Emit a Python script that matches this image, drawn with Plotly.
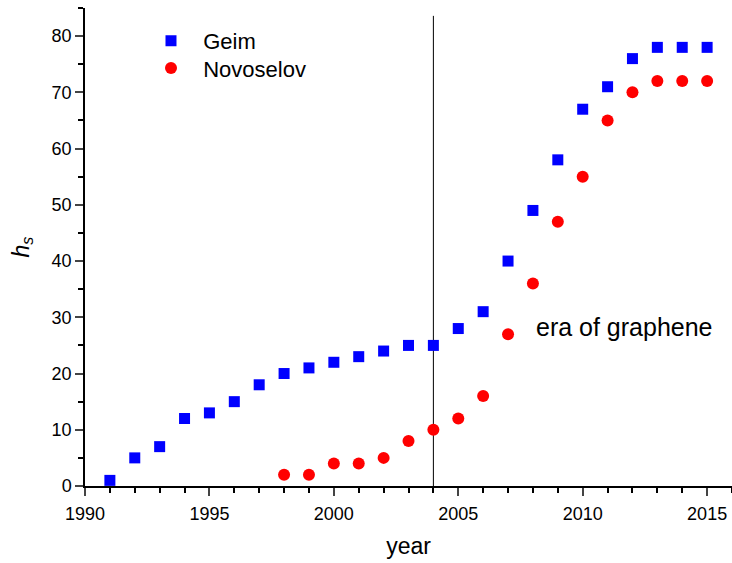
import plotly.graph_objects as go

geim_years = list(range(1991, 2016))
geim_values = [1, 5, 7, 12, 13, 15, 18, 20, 21, 22, 23, 24, 25, 25, 28, 31, 40, 49, 58, 67, 71, 76, 78, 78, 78]
novo_years = list(range(1998, 2016))
novo_values = [2, 2, 4, 4, 5, 8, 10, 12, 16, 27, 36, 47, 55, 65, 70, 72, 72, 72]
era_year = 2004
x_ticks = [1990, 1995, 2000, 2005, 2010, 2015]
y_ticks = [0, 10, 20, 30, 40, 50, 60, 70, 80]

font_family = "Liberation Sans, Arial, sans-serif"

fig = go.Figure()
fig.add_trace(go.Scatter(x=geim_years, y=geim_values, mode="markers", name="  Geim", legend="legend",
                         marker=dict(symbol="square", size=11, color="#0000ff")))
fig.add_trace(go.Scatter(x=novo_years, y=novo_values, mode="markers", name="  Novoselov", legend="legend2",
                         marker=dict(symbol="circle", size=12, color="#ff0000")))

fig.add_shape(type="line", x0=era_year, x1=era_year, y0=0, y1=83.6, xref="x", yref="y",
              line=dict(color="black", width=1), layer="below")

fig.add_annotation(x=2008.05, y=28.3, xref="x", yref="y", text="era of graphene", showarrow=False,
                   xanchor="left", yanchor="middle", font=dict(size=25, color="black", family=font_family))

legend_style = dict(xanchor="left", yanchor="top", bgcolor="rgba(0,0,0,0)",
                    font=dict(size=22), tracegroupgap=0, itemsizing="trace")

fig.update_layout(
    width=732, height=563,
    margin=dict(l=85, r=0, t=8, b=77),
    plot_bgcolor="white", paper_bgcolor="white",
    font=dict(family=font_family, color="black"),
    showlegend=True,
    legend=dict(x=0.102, y=0.975, **legend_style),
    legend2=dict(x=0.102, y=0.918, **legend_style),
    xaxis=dict(range=[1990, 2016], tickvals=x_ticks, ticks="outside", ticklen=8, tickwidth=1.5,
               showline=True, linecolor="black", linewidth=1.5, showgrid=False, zeroline=False,
               tickfont=dict(size=18), ticklabelstandoff=3,
               title=dict(text="year", font=dict(size=23), standoff=15),
               minor=dict(dtick=1, ticks="outside", ticklen=5, tickwidth=1.5, tickcolor="black", showgrid=False)),
    yaxis=dict(range=[0, 85], tickvals=y_ticks, ticks="outside", ticklen=8, tickwidth=1.5,
               showline=True, linecolor="black", linewidth=1.5, showgrid=False, zeroline=False,
               tickfont=dict(size=18), title=dict(text="<i>h</i><sub><i>s</i></sub>", font=dict(size=23), standoff=16),
               minor=dict(dtick=5, ticks="outside", ticklen=5, tickwidth=1.5, tickcolor="black", showgrid=False)),
)

fig.write_html("out.html", config={"displayModeBar": False},
               post_script="document.body.style.margin='0';document.body.style.overflow='hidden';")
